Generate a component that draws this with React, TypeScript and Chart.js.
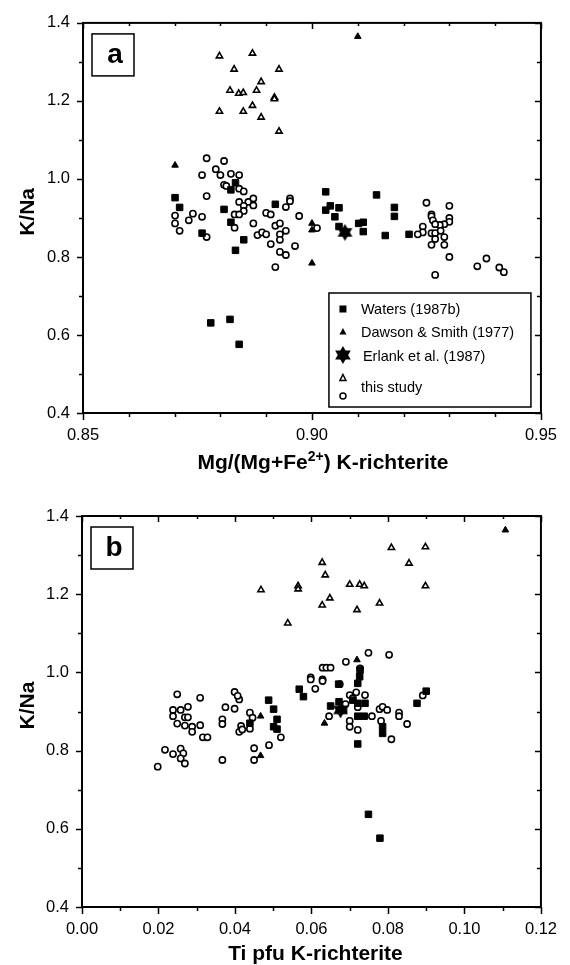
import React, { useEffect, useRef } from 'react';
import { Chart, registerables } from 'chart.js';

Chart.register(...registerables);

const FONT = '"Liberation Sans", Arial, Helvetica, sans-serif';

// ---------- Panel a : Mg/(Mg+Fe2+) vs K/Na ----------
const aWatersX = [0.8701, 0.8711, 0.8760, 0.8808, 0.8823, 0.8833, 0.8823, 0.8851, 0.8833, 0.8920, 0.9030, 0.9030, 0.9040, 0.9050, 0.9059, 0.9059, 0.9102, 0.9112, 0.9112, 0.9141, 0.9160, 0.9180, 0.9180, 0.9212, 0.8779, 0.8821, 0.8841];
const aWatersY = [0.952, 0.927, 0.861, 0.922, 0.972, 0.990, 0.889, 0.844, 0.817, 0.935, 0.967, 0.920, 0.931, 0.903, 0.926, 0.878, 0.886, 0.889, 0.865, 0.959, 0.855, 0.927, 0.904, 0.858, 0.631, 0.640, 0.576];
const aDawsonX = [0.9100, 0.8701, 0.9000, 0.9000, 0.9000];
const aDawsonY = [1.365, 1.035, 0.886, 0.869, 0.784];
const aErlankX = [0.9072];
const aErlankY = [0.863];
const aStudyTriX = [0.8798, 0.8870, 0.8830, 0.8928, 0.8889, 0.8821, 0.8840, 0.8850, 0.8879, 0.8918, 0.8918, 0.8798, 0.8850, 0.8870, 0.8889, 0.8928];
const aStudyTriY = [1.315, 1.322, 1.281, 1.281, 1.249, 1.227, 1.219, 1.221, 1.227, 1.209, 1.205, 1.173, 1.173, 1.188, 1.158, 1.122];
const aStudyCircX = [0.8770, 0.8808, 0.8760, 0.8790, 0.8800, 0.8823, 0.8841, 0.8808, 0.8813, 0.8841, 0.8851, 0.8770, 0.8841, 0.8861, 0.8872, 0.8872, 0.8851, 0.8851, 0.8831, 0.8841, 0.8952, 0.8952, 0.8943, 0.8900, 0.8910, 0.8972, 0.8701, 0.8701, 0.8711, 0.8731, 0.8740, 0.8760, 0.8770, 0.8831, 0.8872, 0.8881, 0.8891, 0.8900, 0.8920, 0.8930, 0.8930, 0.8930, 0.8943, 0.8910, 0.8930, 0.8943, 0.8963, 0.8920, 0.9011, 0.9250, 0.9300, 0.9261, 0.9261, 0.9264, 0.9300, 0.9300, 0.9289, 0.9279, 0.9269, 0.9242, 0.9242, 0.9231, 0.9261, 0.9269, 0.9281, 0.9269, 0.9289, 0.9261, 0.9289, 0.9300, 0.9269, 0.9361, 0.9381, 0.9409, 0.9419];
const aStudyCircY = [1.053, 1.046, 1.010, 1.025, 1.010, 1.013, 1.010, 0.985, 0.982, 0.975, 0.968, 0.956, 0.941, 0.941, 0.950, 0.932, 0.931, 0.918, 0.909, 0.909, 0.950, 0.943, 0.928, 0.913, 0.909, 0.905, 0.906, 0.886, 0.867, 0.894, 0.911, 0.903, 0.851, 0.875, 0.886, 0.856, 0.863, 0.858, 0.880, 0.886, 0.858, 0.844, 0.867, 0.833, 0.813, 0.805, 0.828, 0.774, 0.874, 0.939, 0.931, 0.909, 0.904, 0.894, 0.900, 0.890, 0.884, 0.882, 0.884, 0.878, 0.863, 0.858, 0.861, 0.861, 0.867, 0.846, 0.851, 0.831, 0.831, 0.800, 0.754, 0.776, 0.796, 0.773, 0.761];

// ---------- Panel b : Ti pfu vs K/Na ----------
const bWatersX = [0.0488, 0.0501, 0.0510, 0.0501, 0.0510, 0.0439, 0.0568, 0.0579, 0.0671, 0.0721, 0.0727, 0.0726, 0.0650, 0.0672, 0.0684, 0.0708, 0.0721, 0.0740, 0.0721, 0.0738, 0.0786, 0.0786, 0.0721, 0.0876, 0.0900, 0.0749, 0.0779];
const bWatersY = [0.929, 0.906, 0.880, 0.861, 0.855, 0.870, 0.957, 0.938, 0.970, 0.972, 1.006, 0.989, 0.914, 0.925, 0.904, 0.929, 0.921, 0.921, 0.888, 0.888, 0.861, 0.844, 0.817, 0.921, 0.952, 0.637, 0.576];
const bDawsonX = [0.1107, 0.0719, 0.0467, 0.0634, 0.0467];
const bDawsonY = [1.364, 1.032, 0.888, 0.870, 0.787];
const bErlankX = [0.0676];
const bErlankY = [0.904];
const bStudyTriX = [0.0809, 0.0898, 0.0628, 0.0855, 0.0636, 0.0468, 0.0565, 0.0565, 0.0700, 0.0726, 0.0738, 0.0898, 0.0648, 0.0628, 0.0719, 0.0778, 0.0538];
const bStudyTriY = [1.319, 1.321, 1.281, 1.279, 1.249, 1.211, 1.221, 1.213, 1.225, 1.225, 1.221, 1.221, 1.190, 1.172, 1.160, 1.177, 1.126];
const bStudyCircX = [0.0249, 0.0238, 0.0258, 0.0277, 0.0238, 0.0269, 0.0277, 0.0249, 0.0269, 0.0288, 0.0288, 0.0309, 0.0316, 0.0328, 0.0309, 0.0217, 0.0238, 0.0258, 0.0265, 0.0258, 0.0269, 0.0198, 0.0367, 0.0367, 0.0367, 0.0375, 0.0399, 0.0399, 0.0411, 0.0407, 0.0439, 0.0446, 0.0416, 0.0411, 0.0419, 0.0439, 0.0450, 0.0450, 0.0489, 0.0520, 0.0598, 0.0598, 0.0610, 0.0629, 0.0639, 0.0650, 0.0629, 0.0629, 0.0674, 0.0690, 0.0749, 0.0803, 0.0727, 0.0646, 0.0689, 0.0700, 0.0717, 0.0740, 0.0708, 0.0721, 0.0700, 0.0700, 0.0721, 0.0758, 0.0778, 0.0786, 0.0798, 0.0782, 0.0809, 0.0829, 0.0829, 0.0850, 0.0891];
const bStudyCircY = [0.944, 0.904, 0.904, 0.912, 0.888, 0.885, 0.885, 0.869, 0.864, 0.861, 0.848, 0.865, 0.834, 0.834, 0.935, 0.802, 0.791, 0.805, 0.793, 0.780, 0.767, 0.759, 0.776, 0.880, 0.868, 0.911, 0.950, 0.907, 0.931, 0.940, 0.897, 0.884, 0.863, 0.848, 0.854, 0.856, 0.806, 0.776, 0.814, 0.834, 0.987, 0.982, 0.958, 1.012, 1.012, 1.012, 0.982, 0.978, 0.970, 1.027, 1.050, 1.045, 1.010, 0.888, 0.919, 0.942, 0.949, 0.942, 0.934, 0.911, 0.876, 0.861, 0.853, 0.888, 0.906, 0.912, 0.904, 0.876, 0.829, 0.897, 0.888, 0.868, 0.941];

// axis ranges / tick labels
const aXRange = [0.85, 0.95];
const bXRange = [0.0, 0.12];
const yRange = [0.4, 1.4];
const legendLabels = ['Waters (1987b)', 'Dawson & Smith (1977)', 'Erlank et al. (1987)', 'this study'];
const yTitle = 'K/Na';
const aXTitle = [{ t: 'Mg/(Mg+Fe' }, { t: '2+', sup: true }, { t: ') K-richterite' }];
const bXTitle = [{ t: 'Ti pfu K-richterite' }];

const zip = (xs: number[], ys: number[]) => xs.map((x, i) => ({ x, y: ys[i] }));

function makeStar(size: number) {
  const c = document.createElement('canvas');
  c.width = size;
  c.height = size;
  const ctx = c.getContext('2d')!;
  drawHexagram(ctx, size / 2, size / 2, size / 2);
  return c;
}

function drawHexagram(ctx: CanvasRenderingContext2D, cx: number, cy: number, r: number) {
  ctx.fillStyle = '#000';
  for (const rot of [-Math.PI / 2, Math.PI / 2]) {
    ctx.beginPath();
    for (let i = 0; i < 3; i++) {
      const a = rot + (i * 2 * Math.PI) / 3;
      const px = cx + r * Math.cos(a);
      const py = cy + r * Math.sin(a);
      if (i === 0) ctx.moveTo(px, py);
      else ctx.lineTo(px, py);
    }
    ctx.closePath();
    ctx.fill();
  }
}

const decorPlugin = {
  id: 'decor',
  afterDraw(chart: any, _args: any, opts: any) {
    const { ctx, chartArea, scales } = chart;
    const { left, right, top, bottom } = chartArea;
    ctx.save();
    ctx.strokeStyle = '#000';
    ctx.fillStyle = '#000';
    // frame
    ctx.lineWidth = 2;
    ctx.strokeRect(left, top, right - left, bottom - top);
    // ticks
    ctx.lineWidth = 1.5;
    ctx.beginPath();
    scales.x.ticks.forEach((t: any) => {
      const px = Math.round(scales.x.getPixelForValue(t.value)) + 0.5;
      const major = t.label !== '';
      ctx.moveTo(px, bottom);
      ctx.lineTo(px, bottom + (major ? 7 : 4));
      ctx.moveTo(px, top);
      ctx.lineTo(px, top + (major ? 6 : 3));
    });
    scales.y.ticks.forEach((t: any) => {
      const py = Math.round(scales.y.getPixelForValue(t.value)) + 0.5;
      const major = t.label !== '';
      ctx.moveTo(left, py);
      ctx.lineTo(left - (major ? 6 : 4), py);
      ctx.moveTo(right, py);
      ctx.lineTo(right - (major ? 6 : 4), py);
    });
    ctx.stroke();

    // panel letter box
    ctx.lineWidth = 1.5;
    const bx = left + 9;
    const by = top + 11;
    ctx.strokeRect(bx, by, 42, 42);
    ctx.font = `bold 28px ${FONT}`;
    ctx.textAlign = 'center';
    ctx.textBaseline = 'alphabetic';
    ctx.fillText(opts.letter, bx + 23, by + 29);

    // y title
    ctx.save();
    ctx.font = `bold 21px ${FONT}`;
    ctx.translate(34, (top + bottom) / 2 - 6);
    ctx.rotate(-Math.PI / 2);
    ctx.textAlign = 'center';
    ctx.fillText(yTitle, 0, 0);
    ctx.restore();

    // x title with superscript support
    const parts = opts.xTitle as { t: string; sup?: boolean }[];
    const mainFont = `bold 21px ${FONT}`;
    const supFont = `bold 14px ${FONT}`;
    let total = 0;
    parts.forEach((p) => {
      ctx.font = p.sup ? supFont : mainFont;
      total += ctx.measureText(p.t).width;
    });
    let x = (left + right) / 2 + opts.titleShift - total / 2;
    const baseY = bottom + opts.titleDrop;
    ctx.textAlign = 'left';
    parts.forEach((p) => {
      ctx.font = p.sup ? supFont : mainFont;
      ctx.fillText(p.t, x, p.sup ? baseY - 8 : baseY);
      x += ctx.measureText(p.t).width;
    });

    // legend
    if (opts.legend) {
      const L = right - 212;
      const R = right - 10;
      const T = bottom - 120;
      const B = bottom - 6;
      ctx.fillStyle = '#fff';
      ctx.fillRect(L, T, R - L, B - T);
      ctx.fillStyle = '#000';
      ctx.lineWidth = 1.5;
      ctx.strokeRect(L, T, R - L, B - T);
      const mx = L + 14;
      const tx = L + 32;
      // square
      ctx.fillRect(mx - 3.5, T + 16 - 3.5, 7, 7);
      // filled triangle
      ctx.beginPath();
      ctx.moveTo(mx, T + 39 - 4);
      ctx.lineTo(mx + 3.5, T + 39 + 2.5);
      ctx.lineTo(mx - 3.5, T + 39 + 2.5);
      ctx.closePath();
      ctx.fill();
      // star
      drawHexagram(ctx, mx, T + 62, 9);
      // open triangle
      ctx.lineWidth = 1.5;
      ctx.beginPath();
      ctx.moveTo(mx, T + 85 - 3.5);
      ctx.lineTo(mx + 3, T + 85 + 2.5);
      ctx.lineTo(mx - 3, T + 85 + 2.5);
      ctx.closePath();
      ctx.stroke();
      // open circle
      ctx.beginPath();
      ctx.arc(mx, T + 103, 3, 0, Math.PI * 2);
      ctx.stroke();
      ctx.font = `14.5px ${FONT}`;
      ctx.textAlign = 'left';
      ctx.fillText(legendLabels[0], tx, T + 21);
      ctx.fillText(legendLabels[1], tx, T + 44);
      ctx.fillText(legendLabels[2], tx + 2, T + 68);
      ctx.fillText(legendLabels[3], tx, T + 99);
    }
    ctx.restore();
  },
};

function buildConfig(p: any) {
  const star = makeStar(17);
  const datasets = [
    {
      label: legendLabels[2],
      data: zip(p.erX, p.erY),
      pointStyle: star,
      pointRadius: 8,
    },
    {
      label: legendLabels[0],
      data: zip(p.waX, p.waY),
      pointStyle: 'rect',
      pointRadius: 4.6,
      pointBackgroundColor: '#000',
      pointBorderColor: '#000',
      pointBorderWidth: 1,
    },
    {
      label: legendLabels[1],
      data: zip(p.daX, p.daY),
      pointStyle: 'triangle',
      pointRadius: 3.8,
      pointBackgroundColor: '#000',
      pointBorderColor: '#000',
      pointBorderWidth: 1,
    },
    {
      label: legendLabels[3] + ' (tri)',
      data: zip(p.stX, p.stY),
      pointStyle: 'triangle',
      pointRadius: 3.6,
      pointBackgroundColor: '#fff',
      pointBorderColor: '#000',
      pointBorderWidth: 1.6,
    },
    {
      label: legendLabels[3] + ' (circ)',
      data: zip(p.scX, p.scY),
      pointStyle: 'circle',
      pointRadius: 3.1,
      pointBackgroundColor: '#fff',
      pointBorderColor: '#000',
      pointBorderWidth: 1.6,
    },
  ];
  const tickFont = { family: FONT, size: 16.5 };
  return {
    type: 'scatter',
    data: { datasets },
    options: {
      responsive: false,
      animation: false,
      events: [],
      layout: { padding: { left: 0, right: p.padRight, top: p.padTop, bottom: 0 } },
      plugins: {
        legend: { display: false },
        tooltip: { enabled: false },
        decor: { letter: p.letter, xTitle: p.xTitle, titleShift: p.titleShift, titleDrop: p.titleDrop, legend: p.legend },
      },
      scales: {
        x: {
          type: 'linear',
          min: p.xRange[0],
          max: p.xRange[1],
          grid: { display: false, drawTicks: false },
          border: { display: false },
          ticks: {
            stepSize: 0.01,
            autoSkip: false,
            maxRotation: 0,
            padding: 13,
            color: '#000',
            font: tickFont,
            callback: (v: number) => {
              const k = v * p.labelEvery;
              return Math.abs(k - Math.round(k)) < 1e-6 ? Number(v).toFixed(2) : '';
            },
          },
          afterFit: (s: any) => {
            s.height = p.xAxisHeight;
          },
        },
        y: {
          type: 'linear',
          min: yRange[0],
          max: yRange[1],
          grid: { display: false, drawTicks: false },
          border: { display: false },
          ticks: {
            stepSize: 0.1,
            autoSkip: false,
            padding: 13,
            color: '#000',
            font: tickFont,
            callback: (v: number) => {
              const k = v * 5;
              return Math.abs(k - Math.round(k)) < 1e-6 ? Number(v).toFixed(1) : '';
            },
          },
          afterFit: (s: any) => {
            s.width = p.yAxisWidth;
          },
        },
      },
    },
    plugins: [decorPlugin],
  };
}

const panelA = {
  waX: aWatersX, waY: aWatersY, daX: aDawsonX, daY: aDawsonY, erX: aErlankX, erY: aErlankY,
  stX: aStudyTriX, stY: aStudyTriY, scX: aStudyCircX, scY: aStudyCircY,
  xRange: aXRange, labelEvery: 20, letter: 'a', xTitle: aXTitle, titleShift: 11, titleDrop: 56, legend: true,
  padRight: 20, padTop: 17, xAxisHeight: 69, yAxisWidth: 83,
};
const panelB = {
  waX: bWatersX, waY: bWatersY, daX: bDawsonX, daY: bDawsonY, erX: bErlankX, erY: bErlankY,
  stX: bStudyTriX, stY: bStudyTriY, scX: bStudyCircX, scY: bStudyCircY,
  xRange: bXRange, labelEvery: 50, letter: 'b', xTitle: bXTitle, titleShift: 4, titleDrop: 53, legend: false,
  padRight: 24, padTop: 34, xAxisHeight: 58, yAxisWidth: 82,
};

function Panel({ cfg, height, top }: { cfg: any; height: number; top: number }) {
  const ref = useRef<HTMLCanvasElement>(null);
  useEffect(() => {
    const chart = new Chart(ref.current!, buildConfig(cfg) as any);
    return () => chart.destroy();
  }, [cfg]);
  return (
    <canvas
      ref={ref}
      width={570}
      height={height}
      style={{ position: 'absolute', left: 0, top, width: 570, height, display: 'block' }}
    />
  );
}

export default function App() {
  return (
    <div style={{ position: 'absolute', left: 0, top: 0, width: 570, height: 965, background: '#fff', overflow: 'hidden' }}>
      <Panel cfg={panelA} height={482} top={0} />
      <Panel cfg={panelB} height={483} top={482} />
    </div>
  );
}
